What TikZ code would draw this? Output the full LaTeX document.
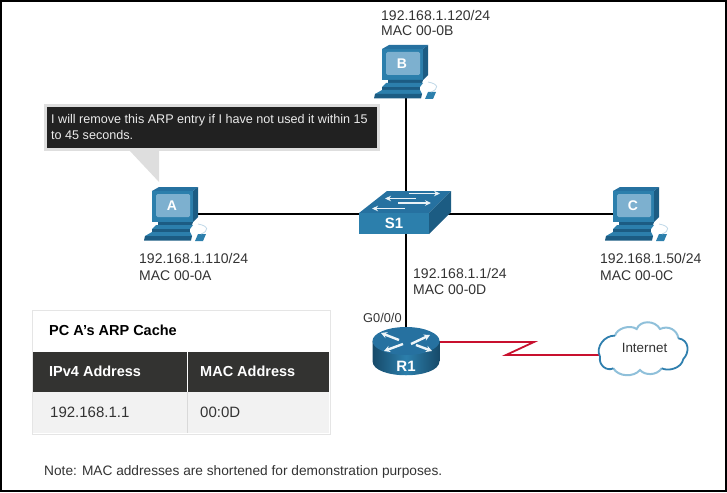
\documentclass[tikz,border=0pt]{standalone}
\usepackage{fontspec}
\setmainfont{Liberation Sans}
\usetikzlibrary{backgrounds,arrows.meta}
\definecolor{ink}{HTML}{333333}
\definecolor{ciscoA}{HTML}{2C7FAC}
\definecolor{ciscoB}{HTML}{1C5C83}
\definecolor{ciscoC}{HTML}{7DB0CF}
\definecolor{ciscoD}{HTML}{2671A0}
\definecolor{wan}{HTML}{C8102E}
\definecolor{cloudlight}{HTML}{8FC0DA}
\definecolor{clouddark}{HTML}{2F7FAE}
\definecolor{hdr}{HTML}{333331}
\tikzset{
  x=1pt,y=-1pt,
  lbl/.style={anchor=west,inner sep=0,text=ink,font=\fontsize{14}{16}\selectfont},
  iconlbl/.style={inner sep=0,text=white,font=\fontsize{14}{16}\bfseries\selectfont},
  tablehead/.style={anchor=west,inner sep=0,font=\fontsize{14.5}{16}\bfseries\selectfont},
  hub/.style={inner sep=0,minimum size=0},
  lan/.style={draw=black,line width=2pt},
  swarrow/.style={white!90!ciscoA,line width=1.9pt,-{Stealth[length=6pt,width=5.5pt]}},
  rtarrow/.style={white!92!ciscoA,line width=2.4pt,-{Stealth[length=6pt,width=6.5pt]}},
}
\newcommand{\pcicon}[2]{%
  \begin{scope}[shift={(#1,#2)}]
    \fill[ciscoB] (21,-15) -- (26,-19) -- (26,11) -- (21,16) -- cycle;
    \fill[ciscoD] (-20,-15) -- (-13,-19) -- (26,-19) -- (21,-15) -- cycle;
    \fill[ciscoA] (-20,-15) rectangle (21,16);
    \fill[ciscoC,rounded corners=1.5pt] (-16,-12) rectangle (18,11);
    \fill[ciscoB] (-14,16) -- (21,16) -- (20,19) -- (-14,19) -- cycle;
    \fill[ciscoA] (-16,19) -- (21,19) -- (18,23) -- (-20,23) -- cycle;
    \fill[ciscoB] (-20,23) -- (18,23) -- (18,26) -- (-20,26) -- cycle;
    \fill[ciscoA] (-20,26) -- (18,26) -- (20,30) -- (-27,30) -- cycle;
    \fill[ciscoB] (-27,30) -- (20,30) -- (19,34.5) -- (-28,34.5) -- cycle;
    \fill[ciscoA] (26,28) -- (34,28) -- (31,35) -- (23,35) -- cycle;
    \draw[ciscoC!50,line width=.8pt] (26,18) .. controls (37,20) and (37,25) .. (29,28);
  \end{scope}}
\begin{document}
\begin{tikzpicture}
\useasboundingbox (0,0) rectangle (727,492);
% outer frame
\draw[black,line width=2.5pt] (1,1) rectangle (726,491);

% connection points hidden under the device icons
\node[hub] (pcA) at (172,214) {};
\node[hub] (pcB) at (406,64) {};
\node[hub] (pcC) at (633,214) {};
\node[hub] (swhub) at (406,214) {};
\node[hub] (rthub) at (406,342) {};
\node[hub] (wanport) at (602,355) {};
\begin{pgfonlayer}{background}
  \draw[lan] (pcA) -- (swhub);
  \draw[lan] (swhub) -- (pcC);
  \draw[lan] (pcB) -- (swhub);
  \draw[lan] (swhub) -- (rthub);
  \draw[wan,line width=1.8pt,line join=miter] (rthub) -- (534,342) -- (506,355) -- (wanport);
\end{pgfonlayer}

% PCs
\pcicon{172}{206}
\pcicon{402}{64}
\pcicon{633}{206}
\node[iconlbl] (A) at (172,206) {A};
\node[iconlbl] (B) at (402,64) {B};
\node[iconlbl] (C) at (633,206) {C};

% switch
\fill[ciscoD] (359,213) -- (387,191) -- (451,191) -- (429,213) -- cycle;
\fill[ciscoB] (429,213) -- (451,191) -- (451,212) -- (429,234) -- cycle;
\fill[ciscoA] (359,213) rectangle (429,234);
\draw[swarrow] (409,193.5) -- (440,193.5);
\draw[swarrow] (416,198.5) -- (385,198.5);
\draw[swarrow] (398,203) -- (431,203);
\draw[swarrow] (405,208.5) -- (372,208.5);
\node[iconlbl,font=\fontsize{15}{16}\bfseries\selectfont] (S1) at (394,223) {S1};

% router
\shade[left color=ciscoB!80!black,right color=ciscoB!80!black,middle color=ciscoA]
  (372.5,341) -- (372.5,361) .. controls (372.5,380) and (439.5,380) .. (439.5,361) -- (439.5,341) -- cycle;
\fill[ciscoD] (406,341) ellipse[x radius=33.5,y radius=14];
\draw[rtarrow] (411,344) -- (430,335);
\draw[rtarrow] (399,340) -- (381,333);
\draw[rtarrow] (403,344) -- (384,351);
\draw[rtarrow] (416,345) -- (432,351);
\node[iconlbl,font=\fontsize{15}{16}\bfseries\selectfont] (R1) at (406,366) {R1};

% cloud
\path[fill=white] (600,356.7)
  .. controls (595,346.7) and (605,335) .. (615,335.7)
  .. controls (616.7,328.3) and (630,324.3) .. (636.7,329)
  .. controls (640,320) and (655,320) .. (660,329)
  .. controls (668.3,325) and (677.3,330) .. (678.3,338.3)
  .. controls (690,340) and (689.3,353.3) .. (683.3,359)
  .. controls (681.7,368.3) and (668.3,371.7) .. (661.7,368.3)
  .. controls (656.7,375.7) and (645,375.7) .. (640,370)
  .. controls (633.3,377.7) and (618.3,376.7) .. (613.3,368.3)
  .. controls (606.7,371.7) and (598.3,365) .. (600,356.7) -- cycle;
\draw[cloudlight,line width=2pt] (615,335.7)
  .. controls (616.7,328.3) and (630,324.3) .. (636.7,329)
  .. controls (640,320) and (655,320) .. (660,329)
  .. controls (668.3,325) and (677.3,330) .. (678.3,338.3);
\draw[cloudlight,line width=2pt] (661.7,368.3)
  .. controls (656.7,375.7) and (645,375.7) .. (640,370)
  .. controls (633.3,377.7) and (618.3,376.7) .. (613.3,368.3);
\draw[clouddark,line width=1.8pt] (613.3,368.3)
  .. controls (606.7,371.7) and (598.3,365) .. (600,356.7)
  .. controls (595,346.7) and (605,335) .. (615,335.7);
\draw[clouddark,line width=1.8pt] (678.3,338.3)
  .. controls (690,340) and (689.3,353.3) .. (683.3,359)
  .. controls (681.7,368.3) and (668.3,371.7) .. (661.7,368.3);
\node[inner sep=0,text=ink,font=\fontsize{13.4}{15}\selectfont] (Internet) at (644.5,348) {Internet};

% address labels
\node[lbl] (ipB) at (381,15) {192.168.1.120/24};
\node[lbl] (macB) at (381,31) {MAC 00-0B};
\node[lbl] (ipA) at (139,258) {\addfontfeatures{Kerning=Off}192.168.1.110/24};
\node[lbl] (macA) at (139,276) {MAC 00-0A};
\node[lbl] (ipC) at (600,258) {192.168.1.50/24};
\node[lbl] (macC) at (600,276) {MAC 00-0C};
\node[lbl] (ipR) at (413,273) {192.168.1.1/24};
\node[lbl] (macR) at (413,290) {MAC 00-0D};
\node[lbl,font=\fontsize{12.8}{15}\selectfont] (port) at (363,318) {G0/0/0};

% speech bubble
\fill[black!13] (129,150) -- (159,150) -- (159,182) -- cycle;
\fill[black!13] (44,104) rectangle (380,151);
\fill[black!87] (47,107) rectangle (377,148);
\node[anchor=north west,inner sep=0,align=left,text=white!92!black,
      font=\fontsize{12.6}{16}\selectfont] (bubble) at (51,114)
  {I will remove this ARP entry if I have not used it within 15\\to 45 seconds.};

% ARP table
\fill[white] (32,310) rectangle (330,434);
\fill[hdr] (33,352) rectangle (329,392);
\fill[black!5] (33,392) rectangle (329,433);
\draw[black!10,line width=1pt] (32.5,310.5) rectangle (330,434);
\draw[white,line width=1pt] (187.5,352) -- (187.5,392);
\draw[black!15,line width=.8pt] (187.5,392) -- (187.5,433);
\node[tablehead,text=black] (tt) at (49,330) {PC A's ARP Cache};
\node[tablehead,text=white] (th1) at (49,371) {IPv4 Address};
\node[tablehead,text=white] (th2) at (200,371) {MAC Address};
\node[lbl,font=\fontsize{15}{16}\selectfont] (td1) at (50,412) {192.168.1.1};
\node[lbl,font=\fontsize{15}{16}\selectfont] (td2) at (200,412) {00:0D};

% note
\node[lbl,font=\fontsize{13.7}{15}\selectfont] (note) at (44,472) {Note: MAC addresses are shortened for demonstration purposes.};
\end{tikzpicture}
\end{document}
